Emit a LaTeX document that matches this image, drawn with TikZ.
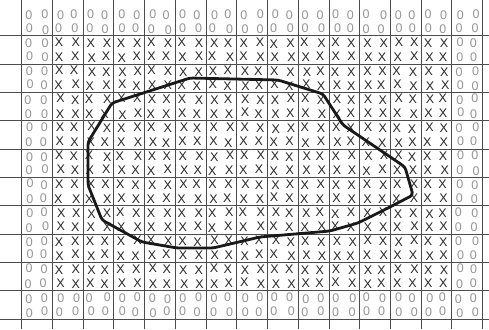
\documentclass[tikz,border=0pt]{standalone}
\usepackage{fontspec}
\setmainfont{Liberation Sans}
\begin{document}
\begin{tikzpicture}[x=1pt, y=-1pt,
  gridline/.style={black!70, line width=1pt},
  xmark/.style={inner sep=0pt, text=black!85, font=\fontsize{12.5}{12.5}\selectfont},
  omark/.style={inner sep=0pt, text=black!42, font=\fontsize{12.5}{12.5}\selectfont},
  outline/.style={black!90, line width=2.8pt, line join=round, rounded corners=3pt}]
  \useasboundingbox (0,0) rectangle (489,329);
  \pgfmathsetseed{7}
  % Grid
  \foreach \c in {0,...,15}
    \draw[gridline] ({21.7+30.73*\c},0) -- ({21.7+30.73*\c},329);
  \foreach \r in {1,...,11}
    \draw[gridline] (0,{7.67+28.33*\r}) -- (489,{7.67+28.33*\r});
  % Letters, four per cell (0 on the rim, X inside)
  \foreach \c in {0,...,14} {
    \foreach \r in {0,...,10} {
      \pgfmathtruncatemacro{\rim}{(\c==0)||(\c==14)||(\r==0)||(\r==10)}
      \foreach \i in {0,1} {
        \foreach \j in {0,1} {
          \pgfmathsetmacro{\px}{21.7+30.73*(\c+0.24+0.5*\i)+1.5*rand}
          \pgfmathsetmacro{\py}{7.67+28.33*(\r+0.24+0.5*\j)+1.1*rand}
          \ifnum\rim=1
            \node[omark] (o-\c-\r-\i\j) at (\px,\py) {0};
          \else
            \node[xmark] (x-\c-\r-\i\j) at (\px,\py) {X};
          \fi
        }
      }
    }
  }
  % Outline
  \draw[outline] (112,103) -- (190,78) -- (278,80) -- (323,94) -- (343,125)
    -- (380,150) -- (405,167) -- (413,195) -- (388,208) -- (358,223)
    -- (330,231) -- (260,237) -- (213,248) -- (177,248) -- (142,242)
    -- (102,220) -- (88,185) -- (88,142) -- cycle;
\end{tikzpicture}
\end{document}
